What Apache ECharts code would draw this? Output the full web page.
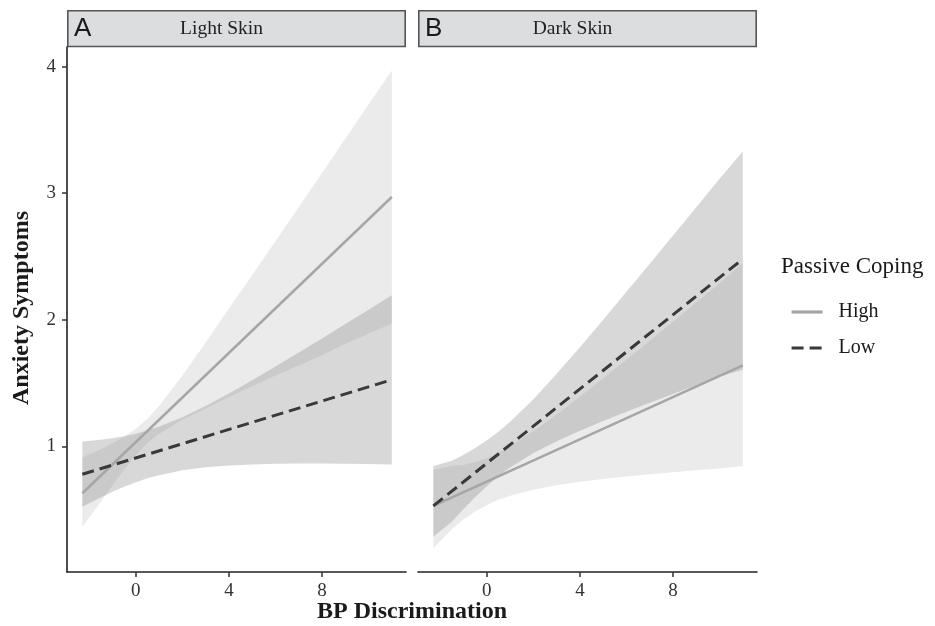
<!DOCTYPE html>
<html>
<head>
<meta charset="utf-8">
<script src="https://cdn.jsdelivr.net/npm/echarts@6/dist/echarts.min.js"></script>
<style>
html,body{margin:0;padding:0;background:#fff;}
#main{width:935px;height:626px;}
</style>
</head>
<body>
<div id="main"></div>
<script>
// ---- data ----
const panels = ['Light Skin', 'Dark Skin'];
const panelLetters = ['A', 'B'];
const xTicks = [0, 4, 8];
const yTicks = [1, 2, 3, 4];

// fitted lines (start / end of BP Discrimination range)
const lineX = [-2.3, 11];
const lightHigh = [0.63, 2.97];
const lightLow = [0.78, 1.527];
const darkHigh = [0.53, 1.64];
const darkLow = [0.53, 2.48];

// confidence bands
const bandX = [-2.3, -1.5, -1, -0.5, 0, 0.5, 1, 2, 3, 4, 5, 6, 7, 8, 9, 10, 11];
const lightHighLower = [0.366, 0.565, 0.693, 0.817, 0.93, 1.027, 1.10, 1.21, 1.30, 1.39, 1.475, 1.56, 1.64, 1.72, 1.81, 1.89, 1.97];
const lightHighUpper = [0.915, 0.977, 1.025, 1.077, 1.14, 1.219, 1.32, 1.56, 1.82, 2.09, 2.355, 2.62, 2.89, 3.16, 3.43, 3.70, 3.97];
const lightLowLower = [0.524, 0.598, 0.642, 0.681, 0.717, 0.748, 0.773, 0.812, 0.836, 0.85, 0.858, 0.863, 0.865, 0.865, 0.864, 0.862, 0.857];
const lightLowUpper = [1.038, 1.052, 1.064, 1.081, 1.101, 1.127, 1.157, 1.231, 1.32, 1.418, 1.522, 1.631, 1.741, 1.853, 1.966, 2.08, 2.194];
const darkHighLower = [0.195, 0.347, 0.424, 0.486, 0.538, 0.579, 0.61, 0.658, 0.694, 0.72, 0.743, 0.762, 0.78, 0.796, 0.812, 0.826, 0.846];
const darkHighUpper = [0.814, 0.847, 0.854, 0.876, 0.906, 0.949, 1.002, 1.12, 1.252, 1.392, 1.537, 1.684, 1.834, 1.984, 2.136, 2.288, 2.45];
const darkLowLower = [0.287, 0.407, 0.506, 0.6, 0.686, 0.764, 0.834, 0.948, 1.041, 1.124, 1.2, 1.273, 1.345, 1.414, 1.484, 1.553, 1.605];
const darkLowUpper = [0.846, 0.887, 0.934, 0.988, 1.048, 1.116, 1.194, 1.372, 1.573, 1.784, 2.0, 2.221, 2.443, 2.666, 2.89, 3.115, 3.33];

// ---- chart ----
const SERIF = '"Liberation Serif", "Times New Roman", serif';
const SANS = '"Liberation Sans", Arial, sans-serif';
const HIGH_FILL = 'rgba(128,128,128,0.16)';
const LOW_FILL = 'rgba(128,128,128,0.31)';

const chart = echarts.init(document.getElementById('main'), null, {renderer: 'canvas'});

function band(idx, lower, upper, fill) {
  return {
    type: 'custom', xAxisIndex: idx, yAxisIndex: idx, silent: true, z: 1,
    data: [[0, 1]],
    renderItem: function (params, api) {
      const pts = [];
      for (let i = 0; i < bandX.length; i++) pts.push(api.coord([bandX[i], upper[i]]));
      for (let i = bandX.length - 1; i >= 0; i--) pts.push(api.coord([bandX[i], lower[i]]));
      return {type: 'polygon', shape: {points: pts}, style: {fill: fill}};
    }
  };
}
function line(idx, name, vals) {
  const isHigh = name === 'High';
  return {
    type: 'line', name: name, xAxisIndex: idx, yAxisIndex: idx, z: 3,
    data: lineX.map((x, i) => [x, vals[i]]),
    symbol: 'none', silent: true,
    lineStyle: isHigh ? {color: '#a6a6a6', width: 2.5, type: 'solid'}
                      : {color: '#393939', width: 3, type: [12, 6]},
    itemStyle: {color: isHigh ? '#a6a6a6' : '#393939'}
  };
}

const grids = [
  {left: 67, top: 47, width: 339, height: 525},
  {left: 418, top: 47, width: 339, height: 525}
];

const xAxes = grids.map((g, i) => ({
  type: 'value', gridIndex: i, min: -2.96, max: 11.61,
  splitLine: {show: false},
  axisLine: {show: true, onZero: false, lineStyle: {color: '#222', width: 1.6}},
  axisTick: {show: true, customValues: xTicks, length: 5, lineStyle: {color: '#333', width: 1.5}},
  axisLabel: {show: true, customValues: xTicks, fontFamily: SERIF, fontSize: 19, color: '#333', margin: 10}
}));
const yAxes = grids.map((g, i) => ({
  type: 'value', gridIndex: i, min: 0.008, max: 4.155,
  splitLine: {show: false},
  axisLine: {show: i === 0, onZero: false, lineStyle: {color: '#222', width: 1.6}},
  axisTick: {show: i === 0, customValues: yTicks, length: 5, lineStyle: {color: '#333', width: 1.5}},
  axisLabel: {show: i === 0, customValues: yTicks, fontFamily: SERIF, fontSize: 19, color: '#333', margin: 11}
}));

const graphics = [];
grids.forEach((g, i) => {
  graphics.push({
    type: 'rect', silent: true,
    shape: {x: g.left + 0.8, y: 10.8, width: g.width - 1.6, height: 35.7},
    style: {fill: '#dcdddf', stroke: '#555', lineWidth: 1.6}
  });
  graphics.push({
    type: 'text', silent: true, x: g.left + 7, y: 29,
    style: {text: panelLetters[i], font: '26px ' + SANS, fill: '#1a1a1a', textAlign: 'left', textVerticalAlign: 'middle'}
  });
  graphics.push({
    type: 'text', silent: true, x: g.left + g.width / 2 - 15, y: 29,
    style: {text: panels[i], font: '19.5px ' + SERIF, fill: '#222', textAlign: 'center', textVerticalAlign: 'middle'}
  });
});
graphics.push({
  type: 'text', silent: true, x: 412, y: 612,
  style: {text: 'BP Discrimination', font: 'bold 24px ' + SERIF, fill: '#1a1a1a', textAlign: 'center', textVerticalAlign: 'middle'}
});
graphics.push({
  type: 'text', silent: true, x: 22, y: 308, rotation: Math.PI / 2,
  style: {text: 'Anxiety Symptoms', font: 'bold 24px ' + SERIF, fill: '#1a1a1a', textAlign: 'center', textVerticalAlign: 'middle'}
});
graphics.push({
  type: 'text', silent: true, x: 781, y: 267,
  style: {text: 'Passive Coping', font: '23px ' + SERIF, fill: '#1a1a1a', textAlign: 'left', textVerticalAlign: 'middle'}
});

chart.setOption({
  animation: false,
  backgroundColor: '#fff',
  grid: grids,
  xAxis: xAxes,
  yAxis: yAxes,
  legend: {
    data: ['High', 'Low'], orient: 'vertical', left: 785, top: 297,
    itemWidth: 31, itemHeight: 14, itemGap: 16, selectedMode: false,
    itemStyle: {opacity: 0},
    lineStyle: {width: 3.2},
    textStyle: {fontFamily: SERIF, fontSize: 20, color: '#1a1a1a', padding: [0, 0, 0, 11]}
  },
  graphic: graphics,
  series: [
    band(0, lightHighLower, lightHighUpper, HIGH_FILL),
    band(0, lightLowLower, lightLowUpper, LOW_FILL),
    band(1, darkHighLower, darkHighUpper, HIGH_FILL),
    band(1, darkLowLower, darkLowUpper, LOW_FILL),
    line(0, 'High', lightHigh),
    line(0, 'Low', lightLow),
    line(1, 'High', darkHigh),
    line(1, 'Low', darkLow)
  ]
});
</script>
</body>
</html>
